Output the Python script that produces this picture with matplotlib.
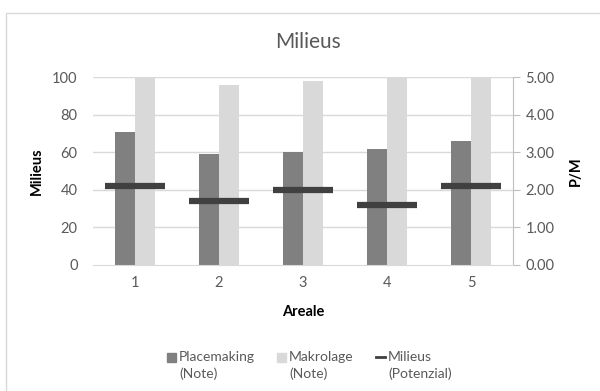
import matplotlib.pyplot as plt
from matplotlib.patches import Rectangle
from matplotlib.lines import Line2D

areale = [1, 2, 3, 4, 5]
placemaking = [3.55, 2.95, 3.0, 3.1, 3.3]   # Note, right axis
makrolage = [5.0, 4.8, 4.9, 5.0, 5.0]       # Note, right axis
milieus = [42, 34, 40, 32, 42]              # Potenzial, left axis

plt.rcParams['font.family'] = ['Lato', 'DejaVu Sans']
txt = '#595959'
grid_c = '#d9d9d9'
W, H = 600, 391

fig = plt.figure(figsize=(6, 3.91), dpi=100, facecolor='w')
fig.patches.append(Rectangle((6 / W, -0.1), 1.2, 0.1 + (H - 13) / H,
                             transform=fig.transFigure, fill=False,
                             ec=grid_c, lw=1))

ax = fig.add_axes([93 / W, 126 / H, 420 / W, 187.7 / H])
ax2 = ax.twinx()

w = 0.238
x = range(len(areale))
ax2.bar([i + 1 - w / 2 for i in x], placemaking, w, color='#808080', zorder=2)
ax2.bar([i + 1 + w / 2 for i in x], makrolage, w, color='#d9d9d9', zorder=2)
ax2.set_ylim(0, 5)
ax2.set_yticks([0, 1, 2, 3, 4, 5])
ax2.set_yticklabels(['%.2f' % v for v in [0, 1, 2, 3, 4, 5]])

# line series sits on top of the bars
ax.set_zorder(ax2.get_zorder() + 1)
ax.patch.set_visible(False)
ax.plot(areale, milieus, ls='none', marker='_', ms=43, mew=4.5,
        color='#404040', zorder=5)
ax.set_ylim(0, 100)
ax.set_yticks(range(0, 101, 20))
ax.set_xlim(0.5, 5.5)
ax.set_xticks(areale)

# gridlines drawn on the back axes so the bars cover them
for v in range(1, 6):
    ax2.axhline(v, color=grid_c, lw=1, zorder=1)

for a in (ax, ax2):
    for s in a.spines.values():
        s.set_visible(False)
    a.tick_params(colors=txt, labelsize=10.5)
ax2.spines['bottom'].set_visible(True)
ax2.spines['bottom'].set_color(grid_c)
ax2.spines['right'].set_visible(True)
ax2.spines['right'].set_color('#bfbfbf')
ax2.tick_params(axis='y', length=5, color='#bfbfbf', pad=4)
ax.tick_params(axis='y', length=0, pad=11)
ax.tick_params(axis='x', length=0, pad=8)

ax.set_ylabel('Milieus', fontsize=10.5, fontweight='bold', color='#000000',
              labelpad=6)
ax2.set_ylabel('P/M', fontsize=10.5, fontweight='bold', color='#000000',
               labelpad=10, rotation=90)
ax.set_xlabel('Areale', fontsize=10.5, fontweight='bold', color='#000000',
              labelpad=11)
fig.text(308 / W, 1 - 42 / H, 'Milieus', ha='center', va='center',
         fontsize=15, color=txt)

# legend: key aligned with the first line of each two-line label
y1 = 1 - 357 / H
y2 = 1 - 374 / H
sq = 9
keys = [('#808080', 'box', 167, 'Placemaking', '(Note)'),
        ('#d9d9d9', 'box', 277, 'Makrolage', '(Note)'),
        ('#404040', 'line', 376, 'Milieus', '(Potenzial)')]
for color, kind, x0, l1, l2 in keys:
    if kind == 'box':
        fig.patches.append(Rectangle((x0 / W, y1 - sq / 2 / H), sq / W, sq / H,
                                     transform=fig.transFigure, color=color))
    else:
        fig.lines.append(Line2D([x0 / W, (x0 + 9) / W], [y1, y1],
                                transform=fig.transFigure, color=color,
                                lw=2))
    tx = (x0 + 12) / W
    fig.text(tx, y1, l1, ha='left', va='center', fontsize=10, color=txt)
    fig.text(tx, y2, l2, ha='left', va='center', fontsize=10, color=txt)

plt.savefig('out.png', dpi=100, facecolor='w')
